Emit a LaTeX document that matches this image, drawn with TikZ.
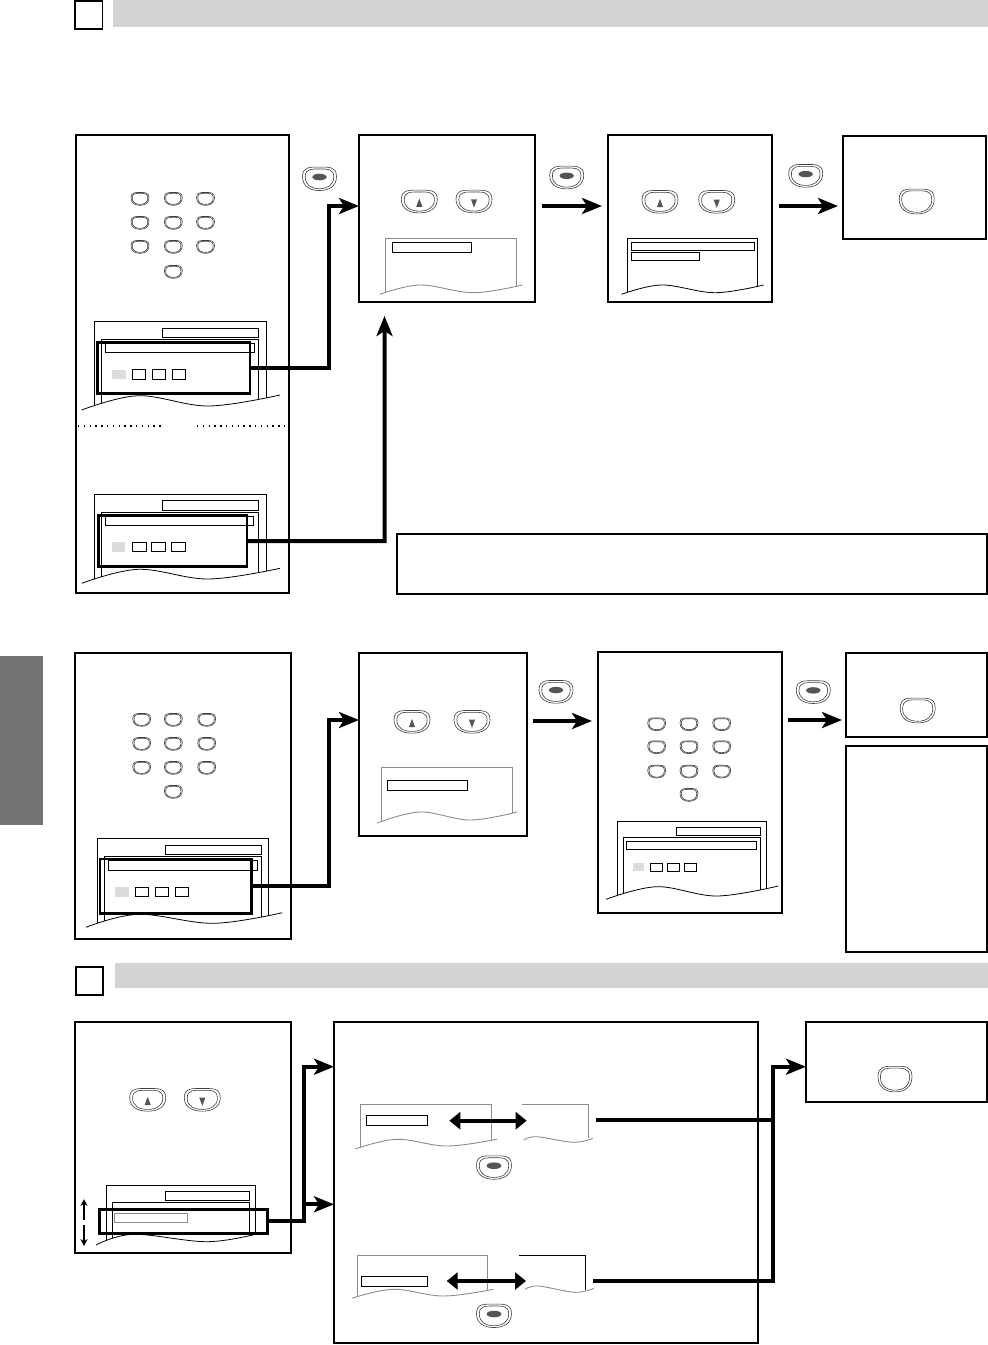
\documentclass[tikz,border=0pt]{standalone}
\usetikzlibrary{arrows.meta,fit,calc}
\definecolor{hdrgray}{HTML}{D3D3D3}
\definecolor{tabgray}{HTML}{737373}
\definecolor{lightsq}{HTML}{DCDCDC}
\definecolor{scrgray}{HTML}{8C8C8C}
\definecolor{btndark}{HTML}{555555}
\tikzset{
  panel/.style={draw, line width=1.2pt, inner sep=0pt, outer sep=0pt, fill=white},
  hdrbar/.style={fill=hdrgray, inner sep=0pt, outer sep=0pt},
  numsq/.style={draw, line width=1.2pt, inner sep=0pt, outer sep=0pt},
  tabbox/.style={fill=tabgray, inner sep=0pt, outer sep=0pt},
  hl/.style={draw, line width=2.6pt, inner sep=0pt, outer sep=0pt},
  scr/.style={line width=0.8pt},
  scrg/.style={line width=0.9pt, draw=scrgray},
  conn/.style={line width=4pt, -{Stealth[length=20pt,width=16pt,inset=5pt]}},
  connl/.style={line width=4pt},
  dbl/.style={line width=3.6pt, {Triangle[length=11pt,width=17pt]}-{Triangle[length=11pt,width=17pt]}},
  bline/.style={line width=0.6pt, draw=black!75},
  bpath/.style={insert path={(-1,-0.15) .. controls (-1,-0.78) and (-0.5,-0.72) .. (0,-0.72) .. controls (0.5,-0.72) and (1,-0.78) .. (1,-0.15) .. controls (1,0.45) and (0.55,0.7) .. (0,0.7) .. controls (-0.55,0.7) and (-1,0.45) .. (-1,-0.15) -- cycle}},
  kpbtn/.pic={\draw[bline,bpath]; \draw[bline,scale=0.86,bpath];},
  enterbtn/.pic={\draw[bline,bpath]; \draw[bline,scale=0.84,bpath]; \fill[btndark] (0,-0.12) ellipse [x radius=0.42, y radius=0.2];},
  upbtn/.pic={\draw[bline,bpath]; \draw[bline,scale=0.84,bpath]; \fill[btndark] (-0.17,0.32) -- (0.17,0.32) -- (0,-0.2) -- cycle;},
  dnbtn/.pic={\draw[bline,bpath]; \draw[bline,scale=0.84,bpath]; \fill[btndark] (-0.17,-0.15) -- (0.17,-0.15) -- (0,0.37) -- cycle;},
  plainbtn/.pic={\draw[bline,bpath]; \draw[bline,scale=0.86,bpath];}
}
\begin{document}
\begin{tikzpicture}[x=1pt,y=-1pt]
\fill[white] (0,0) rectangle (988,1345);
\useasboundingbox (0,0) rectangle (988,1345);

% ---------- headers and tab ----------
\node[hdrbar, fit={(113,0) (988,27)}] (H1) {};
\node[numsq, fit={(75,1) (102.5,29)}] (Sq1) {};
\node[hdrbar, fit={(115,963) (988,988)}] (H2) {};
\node[numsq, fit={(76,967) (103,995)}] (Sq2) {};
\node[tabbox, fit={(0,656) (43,825)}] (Tab) {};

% ---------- panels ----------
\node[panel, fit={(76,135) (289,593)}] (A) {};
\node[panel, fit={(359,135) (535,302)}] (B) {};
\node[panel, fit={(608,135) (772,302)}] (C) {};
\node[panel, fit={(843,136) (986,239)}] (D) {};
\node[panel, fit={(397,534) (987,594)}] (N) {};
\node[panel, fit={(75,653) (291,939)}] (E) {};
\node[panel, fit={(359,653) (527,836)}] (F) {};
\node[panel, fit={(598,652) (782,913)}] (G) {};
\node[panel, fit={(846,653) (987,737)}] (Hp) {};
\node[panel, fit={(846,746) (987,952)}] (I) {};
\node[panel, fit={(75,1022) (291,1253)}] (J) {};
\node[panel, fit={(334,1022) (758,1343)}] (K) {};
\node[panel, fit={(806,1022) (987,1102)}] (L) {};

% ---------- panel A ----------
\foreach \yy in {199,223,247} \foreach \xx in {140,173.3,205.5} \pic[xscale=9,yscale=9] at (\xx,\yy) {kpbtn};
\pic[xscale=9,yscale=9] at (173.3,272) {kpbtn};
\begin{scope}
 \clip (70,315) -- plot[smooth,tension=0.6] coordinates {(81.7,410) (138.3,395.7) (208.3,406) (280,395)} -- (285,315) -- cycle;
 \draw[scr] (94,321) rectangle (266,430);
 \draw[scr] (101,339.5) rectangle (258.5,430);
\end{scope}
\draw[scr] plot[smooth,tension=0.6] coordinates {(81.7,410) (138.3,395.7) (208.3,406) (280,395)};
\draw[scr] (162,328) rectangle (258.5,337.5);
\draw[scr] (105.7,343.3) rectangle (254.3,352.3);
\fill[lightsq] (111.7,369.5) rectangle (125.7,379);
\foreach \xx in {132.3,152.3,172.3} \draw[scr] (\xx,369.5) rectangle ++(13.4,9.5);
\node[hl, fit={(97.7,342.3) (250,393.3)}] (hlA1) {};

\draw[line width=1.2pt, dash pattern=on 1.3pt off 4.5pt] (78,426) -- (163,426);
\draw[line width=1.2pt, dash pattern=on 1.3pt off 4.5pt] (197,426) -- (288,426);

\begin{scope}
 \clip (70,488) -- plot[smooth,tension=0.6] coordinates {(81.7,583.3) (138.3,569.3) (208.3,579) (280,568.3)} -- (285,488) -- cycle;
 \draw[scr] (94,494) rectangle (266,600);
 \draw[scr] (101,512.3) rectangle (258.7,600);
\end{scope}
\draw[scr] plot[smooth,tension=0.6] coordinates {(81.7,583.3) (138.3,569.3) (208.3,579) (280,568.3)};
\draw[scr] (162,500) rectangle (258,510);
\draw[scr] (105.7,516) rectangle (253.7,525.3);
\fill[lightsq] (111.7,542.3) rectangle (125,551.7);
\foreach \xx in {132,151.3,171.3} \draw[scr] (\xx,542.3) rectangle ++(14,9.4);
\node[hl, fit={(98.7,515.7) (247,566.7)}] (hlA2) {};

% ---------- panel B ----------
\pic[xscale=18,yscale=16] at (419.3,201.7) {upbtn};
\pic[xscale=18,yscale=16] at (474,201.7) {dnbtn};
\begin{scope}
 \clip (370,230) -- plot[smooth,tension=0.6] coordinates {(380,294.3) (420,285) (473.3,292.7) (522.3,285)} -- (530,230) -- cycle;
 \draw[scrg] (385.7,238.3) rectangle (516.3,310);
\end{scope}
\draw[scrg] plot[smooth,tension=0.6] coordinates {(380,294.3) (420,285) (473.3,292.7) (522.3,285)};
\draw[scr] (392,242.3) rectangle (471.7,252.7);

% ---------- panel C ----------
\pic[xscale=18,yscale=16] at (660,202) {upbtn};
\pic[xscale=18,yscale=16] at (716.7,202) {dnbtn};
\begin{scope}
 \clip (612,230) -- plot[smooth,tension=0.6] coordinates {(621.6,294.3) (661.6,285) (715,292.7) (763.6,285)} -- (770,230) -- cycle;
 \draw[scr] (627.3,238.3) rectangle (757.3,310);
\end{scope}
\draw[scr] plot[smooth,tension=0.6] coordinates {(621.6,294.3) (661.6,285) (715,292.7) (763.6,285)};
\draw[scr] (631,242.3) rectangle (754.3,250.3);
\draw[scr] (631,252.7) rectangle (699.3,260.3);

% ---------- panel D ----------
\pic[xscale=17.5,yscale=17.5] at (916.7,201.7) {plainbtn};

% ---------- enter buttons row 1 ----------
\pic[xscale=17,yscale=16.5] at (319.5,179) {enterbtn};
\pic[xscale=17,yscale=16] at (566.7,177.7) {enterbtn};
\pic[xscale=17,yscale=16] at (805.7,176) {enterbtn};

% ---------- connectors row 1 ----------
\coordinate (jA1) at (329,206);
\draw[conn] (hlA1.east) -| (jA1) -- (jA1 -| B.west);
\coordinate (jA2) at (384.5,541);
\coordinate (tA2) at (384.5,316);
\draw[conn] (hlA2.east) -- (jA2) -- (tA2);
\draw[conn, shorten <=7pt, shorten >=6pt] (jA1 -| B.east) -- (jA1 -| C.west);
\draw[conn, shorten <=7pt, shorten >=5pt] (jA1 -| C.east) -- (jA1 -| D.west);

% ---------- panel E ----------
\foreach \yy in {720,744,768} \foreach \xx in {141.7,173.3,206.7} \pic[xscale=9,yscale=9] at (\xx,\yy) {kpbtn};
\pic[xscale=9,yscale=9] at (173.3,792) {kpbtn};
\begin{scope}
 \clip (75,830) -- plot[smooth,tension=0.6] coordinates {(86,927.3) (138.3,914.3) (213.3,923.3) (282.3,912.7)} -- (288,830) -- cycle;
 \draw[scr] (97.3,838.7) rectangle (268.7,940);
 \draw[scr] (104.3,856) rectangle (261.7,940);
\end{scope}
\draw[scr] plot[smooth,tension=0.6] coordinates {(86,927.3) (138.3,914.3) (213.3,923.3) (282.3,912.7)};
\draw[scr] (165.7,845.7) rectangle (261.7,854.3);
\draw[scr] (108.7,860) rectangle (257.3,870);
\fill[lightsq] (115,887.3) rectangle (129,896.7);
\foreach \xx in {135,155,175} \draw[scr] (\xx,887.3) rectangle ++(13.7,9.4);
\node[hl, fit={(100,859) (251.7,913.3)}] (hlE) {};

% ---------- panel F ----------
\pic[xscale=18,yscale=16] at (412,722) {upbtn};
\pic[xscale=18,yscale=16] at (472,722) {dnbtn};
\begin{scope}
 \clip (368,760) -- plot[smooth,tension=0.6] coordinates {(377,823) (420,812) (470,820) (517,812)} -- (524,760) -- cycle;
 \draw[scrg] (381,767) rectangle (512,840);
\end{scope}
\draw[scrg] plot[smooth,tension=0.6] coordinates {(377,823) (420,812) (470,820) (517,812)};
\draw[scr] (387,780) rectangle (467,790);

% ---------- panel G ----------
\foreach \yy in {724.3,747.3,771.7} \foreach \xx in {656.7,689,721.7} \pic[xscale=9,yscale=9] at (\xx,\yy) {kpbtn};
\pic[xscale=9,yscale=9] at (689,795) {kpbtn};
\begin{scope}
 \clip (600,815) -- plot[smooth,tension=0.6] coordinates {(606,899.3) (656.7,886.7) (716.7,896) (778.3,886)} -- (780,815) -- cycle;
 \draw[scr] (617.3,821.7) rectangle (766.7,910);
 \draw[scr] (623.3,837.3) rectangle (760.7,910);
\end{scope}
\draw[scr] plot[smooth,tension=0.6] coordinates {(606,899.3) (656.7,886.7) (716.7,896) (778.3,886)};
\draw[scr] (676.7,827.7) rectangle (760.7,835.7);
\draw[scr] (626,841.3) rectangle (756.7,849.3);
\fill[lightsq] (633,863.3) rectangle (644,871.3);
\foreach \xx in {650.7,667.3,684.3} \draw[scr] (\xx,863.3) rectangle ++(12,8);

% ---------- panel H ----------
\pic[xscale=17.5,yscale=17.5] at (917.7,710.7) {plainbtn};

% ---------- enter buttons row 2 ----------
\pic[xscale=17,yscale=16] at (556,692) {enterbtn};
\pic[xscale=17,yscale=16] at (813.3,692.3) {enterbtn};

% ---------- connectors row 2 ----------
\coordinate (jE) at (329,720);
\draw[conn] (hlE.east) -| (jE) -- (jE -| F.west);
\coordinate (rF) at (0,721);
\draw[conn, shorten <=6pt, shorten >=6pt] (rF -| F.east) -- (rF -| G.west);
\draw[conn, shorten <=6pt, shorten >=4pt] (jE -| G.east) -- (jE -| Hp.west);

% ---------- panel J ----------
\pic[xscale=18,yscale=16] at (147.7,1100) {upbtn};
\pic[xscale=18,yscale=16] at (202.3,1100) {dnbtn};
\begin{scope}
 \clip (90,1178) -- plot[smooth,tension=0.6] coordinates {(96,1245) (133.3,1234.3) (206.7,1241.7) (256.7,1234)} -- (262,1178) -- cycle;
 \draw[scr] (106,1185) rectangle (255.7,1260);
 \draw[scr] (112.3,1202.3) rectangle (249.3,1260);
\end{scope}
\draw[scr] plot[smooth,tension=0.6] coordinates {(96,1245) (133.3,1234.3) (206.7,1241.7) (256.7,1234)};
\draw[scr] (165.7,1191.7) rectangle (249.3,1200.3);
\draw[scrg] (114.3,1213.3) rectangle (187.7,1222);
\node[hl, fit={(99.3,1209.3) (267.3,1233.3)}] (hlJ) {};
\draw[line width=1.2pt, -{Stealth[length=7pt,width=7pt]}] (84,1220) -- (84,1199);
\draw[line width=1.2pt, -{Stealth[length=7pt,width=7pt]}] (84,1225) -- (84,1246);

% ---------- panel K ----------
\begin{scope}
 \clip (345,1095) -- plot[smooth,tension=0.6] coordinates {(355,1149) (396.7,1139.3) (446.7,1146) (496.7,1139.3)} -- (505,1095) -- cycle;
 \draw[scrg] (360.7,1104) rectangle (491.7,1160);
\end{scope}
\draw[scrg] plot[smooth,tension=0.6] coordinates {(355,1149) (396.7,1139.3) (446.7,1146) (496.7,1139.3)};
\draw[scr] (366,1115.7) rectangle (427.7,1125.7);
\draw[scrg] (521.7,1104) -- (588.3,1104) -- (588.3,1138.3);
\draw[scrg] plot[smooth,tension=0.6] coordinates {(524,1140) (536.7,1136.7) (573.3,1142.3) (592.7,1138.3)};
\draw[dbl] (449.3,1120.7) -- (526.7,1120.7);
\pic[xscale=17.5,yscale=16.5] at (494,1167.7) {enterbtn};

\begin{scope}
 \clip (340,1248) -- plot[smooth,tension=0.6] coordinates {(351.7,1298.3) (393.3,1289.3) (443.3,1296) (493.3,1289.3)} -- (500,1248) -- cycle;
 \draw[scrg] (357.7,1255.7) rectangle (487.7,1310);
\end{scope}
\draw[scrg] plot[smooth,tension=0.6] coordinates {(351.7,1298.3) (393.3,1289.3) (443.3,1296) (493.3,1289.3)};
\draw[scr] (361,1276.7) rectangle (427.7,1286.7);
\draw[scr] (519,1255.7) -- (585.7,1255.7) -- (585.7,1290);
\draw[scrg] plot[smooth,tension=0.6] coordinates {(525,1289.3) (538.3,1286) (575,1292.3) (594,1288.3)};
\draw[dbl] (446.7,1281) -- (526,1281);
\pic[xscale=17.5,yscale=16.5] at (494,1316) {enterbtn};

% ---------- panel L ----------
\pic[xscale=17,yscale=18] at (895,1079.3) {plainbtn};

% ---------- connectors row 3 ----------
\coordinate (jJ) at (304.3,1066.7);
\coordinate (jJb) at (304.3,1204.3);
\draw[conn] (hlJ.east) -| (jJ) -- (jJ -| K.west);
\draw[conn] (jJb) -- (jJb -| K.west);
\coordinate (k1s) at (596,1120);
\coordinate (k2s) at (593.3,1281);
\coordinate (jK) at (773.3,1066.7);
\draw[connl] (k2s) -| (jK);
\draw[conn] (k1s) -| (jK) -- (jK -| L.west);
\end{tikzpicture}
\end{document}
